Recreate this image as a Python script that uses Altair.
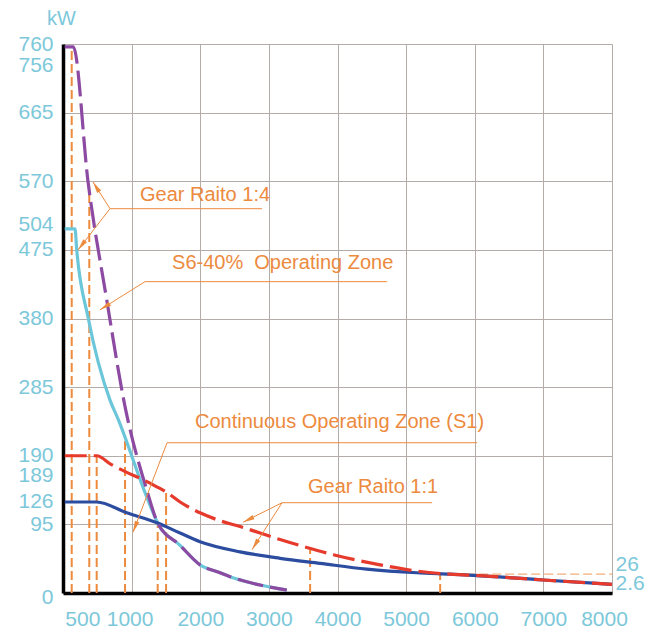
import altair as alt
import pandas as pd

# ---------------- data (rpm, kW) ----------------
purple_x = [25, 150, 364, 637, 904, 1220, 1380, 1706, 1997, 2289, 2434, 2872, 3261]
purple_y = [756, 756, 570, 406, 258, 143, 97, 66, 39, 28, 22.6, 11, 4]

cyan_x = [25, 175, 200, 369, 685, 806, 1220, 1380, 1706, 1997, 2289, 2434, 2872, 3261]
cyan_y = [504, 504, 475, 380, 267, 240, 133, 97, 66, 39, 28, 22.6, 11, 4]

red_x = [25, 491, 700, 929, 1122, 1268, 1516, 1706, 1997, 2289, 2580, 2872, 3163, 3552, 3940,
         4621, 5107, 5641, 5977, 6997, 8000]
red_y = [190, 190, 178, 167, 159, 152, 139, 126, 111, 100, 92, 83, 74, 63, 53,
         39, 31, 26, 24.5, 18, 12]

blue_x = [25, 490, 929, 1380, 1706, 1997, 2580, 3163, 3746, 4427, 5156, 5641, 5977, 6997, 8000]
blue_y = [126, 126, 111, 97, 83, 71, 57, 48, 41, 33, 28, 26, 24.5, 18, 12]

# orange dashed drop lines
drop_x = [127, 383, 491, 904, 1380, 1502, 3601, 5496]
drop_top = [756, 560, 190, 215, 97, 140, 61, 26]
hline_x = [5496]
hline_x2 = [8000]
hline_y = [26]

# axis tick labels
x_ticks = [500, 1000, 2000, 3000, 4000, 5000, 6000, 7000, 8000]
y_ticks = [0, 95, 126, 189, 190, 285, 380, 475, 504, 570, 665, 756, 760]
right_ticks = [26, 2.6]

# annotations
ann_text = ["Gear Raito 1:4", "S6-40%\u00a0 Operating Zone",
            "Continuous Operating Zone (S1)", "Gear Raito 1:1"]
ann_x = [1122, 1589, 1924, 3571]
ann_y = [551, 457, 237, 147]
ul_x = [685, 1195, 1516, 3192]
ul_x2 = [2901, 4723, 6035, 5379]
ul_y = [532, 431, 208, 125]
lead_x = [685, 685, 1195, 1516, 3192, 3192]
lead_y = [532, 532, 431, 208, 125, 125]
tip_x = [437, 219, 539, 1020, 2624, 2755]
tip_y = [569, 475, 392, 84, 98, 60]
tip_angle = [328, 218, 238, 201, 244, 212]

# ---------------- styles ----------------
FONT = "Liberation Sans, Arial, sans-serif"
LABEL_C = "#7cc8da"
ORANGE = "#ec8a3e"
GRID_C = "#b3aca8"

xs = alt.Scale(domain=[0, 8000], nice=False, zero=False)
ys = alt.Scale(domain=[0, 760], nice=False, zero=False)

x_axis = alt.Axis(
    values=x_ticks, format="d", title=None, ticks=False,
    domain=True, domainColor="black", domainWidth=3.5,
    grid=True, gridWidth=1,
    gridColor={"condition": {"test": "datum.value % 1000 != 0", "value": "transparent"}, "value": GRID_C},
    labelFont=FONT, labelFontSize=21, labelColor=LABEL_C, labelPadding=15,
    labelBaseline="top", labelFlush=False, labelOverlap=False, labelBound=False,
    labelOffset={"condition": [
        {"test": "datum.value == 500", "value": -15},
        {"test": "datum.value == 1000", "value": -2},
        {"test": "datum.value == 8000", "value": -8}], "value": 0},
)
y_axis = alt.Axis(
    values=y_ticks, format="d", ticks=False,
    domain=True, domainColor="black", domainWidth=3.5,
    grid=True, gridWidth=1,
    gridColor={"condition": {"test": "datum.value % 95 != 0", "value": "transparent"}, "value": GRID_C},
    labelFont=FONT, labelFontSize=21, labelColor=LABEL_C, labelPadding=10,
    labelBaseline="middle", labelFlush=False, labelOverlap=False, labelBound=False,
    labelOffset={"condition": [
        {"test": "datum.value == 756", "value": 19},
        {"test": "datum.value == 189", "value": 19},
        {"test": "datum.value == 504", "value": -4},
        {"test": "datum.value == 0", "value": 4}], "value": 0},
    title="kW", titleAngle=0, titleX=-2, titleY=-26, titleAlign="center",
    titleBaseline="middle", titleFont=FONT, titleFontSize=20, titleFontWeight="normal",
    titleColor=LABEL_C,
)
right_axis = alt.Axis(
    orient="right", values=right_ticks, title=None, ticks=False,
    labelExpr="datum.value == 26 ? '26' : '2.6'",
    domain=False, grid=False, labelFont=FONT, labelFontSize=21, labelColor=LABEL_C,
    labelPadding=3, labelFlush=False, labelOverlap=False, labelBound=False,
    labelOffset={"condition": [
        {"test": "datum.value == 26", "value": -10}], "value": -8},
)


def X(field, axis=None):
    return alt.X(field, type="quantitative", scale=xs, axis=axis)


def Y(field, axis=None):
    return alt.Y(field, type="quantitative", scale=ys, axis=axis)


drops_df = pd.DataFrame({"x": drop_x, "y": [0] * len(drop_x), "y2": drop_top})
drops = alt.Chart(drops_df).mark_rule(color=ORANGE, strokeWidth=2, strokeDash=[9, 4]).encode(
    x=X("x", x_axis), y=Y("y", y_axis), y2="y2:Q")

hline_df = pd.DataFrame({"x": hline_x, "x2": hline_x2, "y": hline_y})
hline = alt.Chart(hline_df).mark_rule(color=ORANGE, strokeWidth=1.2, strokeDash=[9, 4], opacity=0.7).encode(
    x=X("x"), x2="x2:Q", y=Y("y", right_axis))


def curve(xv, yv, color, dash=None, width=3.2):
    df = pd.DataFrame({"x": xv, "y": yv})
    kw = dict(color=color, strokeWidth=width, interpolate="monotone")
    if dash:
        kw["strokeDash"] = dash
    return alt.Chart(df).mark_line(**kw).encode(x=X("x"), y=Y("y"))


cyan = curve(cyan_x, cyan_y, "#6cc6d9")
blue = curve(blue_x, blue_y, "#2b4c9f")
purple = curve(purple_x, purple_y, "#8c4aa2", dash=[26, 7])
red = curve(red_x, red_y, "#e63a2c", dash=[22, 7])

ul_df = pd.DataFrame({"x": ul_x, "x2": ul_x2, "y": ul_y})
underlines = alt.Chart(ul_df).mark_rule(color=ORANGE, strokeWidth=1).encode(
    x=X("x"), x2="x2:Q", y=Y("y"))

lead_df = pd.DataFrame({"x": lead_x, "y": lead_y, "x2": tip_x, "y2": tip_y})
leaders = alt.Chart(lead_df).mark_rule(color=ORANGE, strokeWidth=1).encode(
    x=X("x"), y=Y("y"), x2="x2:Q", y2="y2:Q")

tip_df = pd.DataFrame({"x": tip_x, "y": tip_y, "a": tip_angle})
tips = alt.Chart(tip_df).mark_point(
    shape="M0,0L0.45,2.2L-0.45,2.2Z", filled=True, color=ORANGE, opacity=1, size=110, strokeWidth=0
).encode(x=X("x"), y=Y("y"), angle=alt.Angle("a:Q", scale=None))

ann_df = pd.DataFrame({"t": ann_text, "x": ann_x, "y": ann_y})
texts = alt.Chart(ann_df).mark_text(
    align="left", baseline="middle", font=FONT, fontSize=20, color=ORANGE
).encode(x=X("x"), y=Y("y"), text="t:N")

chart = alt.layer(
    drops, hline, cyan, blue, purple, red, underlines, leaders, tips, texts
).resolve_axis(x="independent", y="independent").properties(
    width=549, height=549,
    autosize=alt.AutoSizeParams(type="none"),
    padding={"left": 55, "top": 36, "right": 37, "bottom": 35},
).configure_view(stroke=None).configure(background="white")

chart.save("out.html", embed_options={"renderer": "svg", "actions": False})
